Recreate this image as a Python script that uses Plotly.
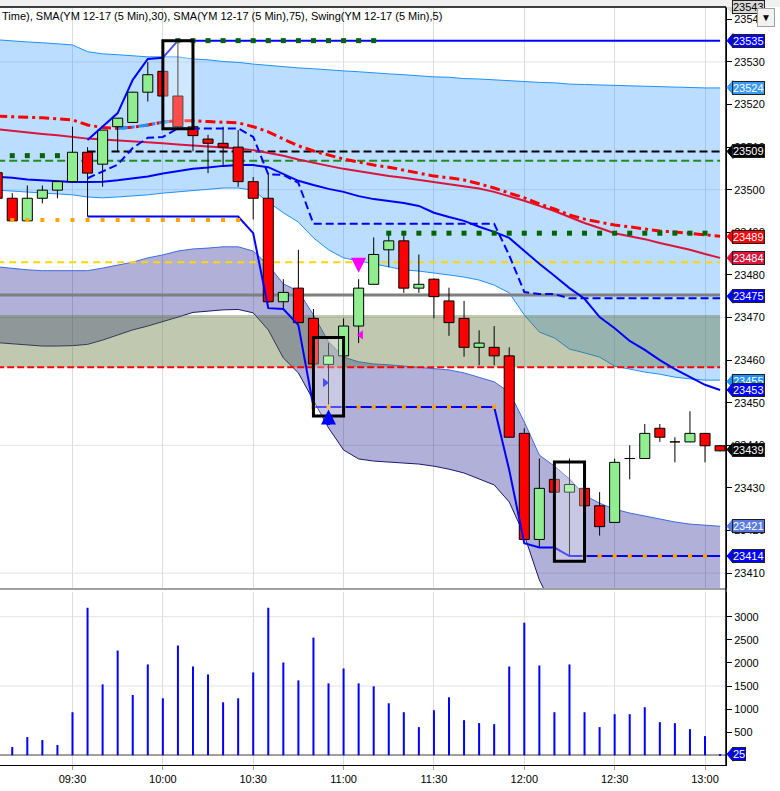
import pandas as pd
import plotly.graph_objects as go

# ---------------- data ----------------
times = pd.date_range("2017-11-28 09:05", periods=49, freq="5min")
x_range = ["2017-11-28 09:05:56", "2017-11-28 13:06:58"]

opens = [23504.0, 23498.0, 23492.7, 23498.0, 23499.9, 23501.9, 23508.8, 23506.0, 23514.8, 23515.8,
         23522.9, 23527.8, 23522.0, 23514.8, 23511.9, 23510.9, 23510.0, 23501.9, 23498.0, 23473.7,
         23476.9, 23469.8, 23459.0, 23461.0, 23468.0, 23477.8, 23485.9, 23488.0, 23476.9, 23479.0,
         23473.9, 23469.8, 23463.0, 23463.0, 23461.0, 23442.8, 23417.9, 23432.0, 23429.0, 23429.9,
         23425.8, 23421.9, 23436.9, 23436.9, 23444.0, 23440.8, 23440.8, 23442.8, 23439.9]
highs = [23505.0, 23499.2, 23501.0, 23501.0, 23502.0, 23514.8, 23510.0, 23514.0, 23516.8, 23523.0,
         23530.0, 23528.0, 23535.0, 23515.0, 23512.9, 23514.8, 23514.0, 23503.0, 23503.9, 23479.0,
         23485.9, 23472.0, 23464.0, 23469.8, 23479.0, 23488.8, 23489.8, 23489.8, 23484.8, 23479.2,
         23477.0, 23473.9, 23467.0, 23468.0, 23463.0, 23444.0, 23436.9, 23432.2, 23436.9, 23430.0,
         23429.0, 23436.9, 23440.0, 23445.0, 23445.0, 23441.9, 23448.0, 23442.9, 23440.0]
lows = [23497.0, 23492.6, 23492.6, 23496.8, 23498.0, 23501.9, 23493.7, 23500.7, 23509.0, 23515.8,
        23520.7, 23521.5, 23514.5, 23509.0, 23503.9, 23505.8, 23500.7, 23493.0, 23473.5, 23472.0,
        23468.6, 23459.0, 23449.6, 23460.8, 23464.0, 23477.8, 23481.8, 23475.8, 23475.8, 23469.8,
        23465.7, 23460.8, 23458.8, 23458.8, 23441.8, 23417.8, 23416.0, 23428.8, 23414.0, 23425.7,
        23418.8, 23421.8, 23432.0, 23436.8, 23440.8, 23436.0, 23440.7, 23436.0, 23438.6]
closes = [23498.0, 23492.7, 23498.0, 23499.9, 23501.9, 23508.8, 23503.9, 23514.0, 23516.8, 23522.9,
          23527.0, 23522.0, 23514.8, 23512.7, 23510.9, 23510.0, 23501.9, 23498.0, 23473.7, 23475.9,
          23468.8, 23459.1, 23461.0, 23468.0, 23476.9, 23484.8, 23488.0, 23476.9, 23477.8, 23474.9,
          23468.8, 23463.0, 23464.0, 23461.0, 23441.9, 23417.9, 23429.9, 23429.0, 23430.8, 23425.8,
          23420.9, 23436.0, 23436.9, 23442.8, 23441.9, 23440.8, 23442.8, 23439.9, 23438.7]
volume = [350, 180, 395, 330, 222, 933, 3194, 1536, 2268, 1306,
          1967, 1234, 2376, 1923, 1751, 1148, 1234, 1794, 3194, 2010,
          1622, 2548, 1557, 1880, 1557, 1493, 1127, 933, 610, 976,
          1256, 761, 696, 675, 1923, 2871, 1945, 933, 1967, 933,
          610, 890, 890, 1041, 718, 696, 567, 416, 25]

# light-blue envelope
env_upper = [23535.2, 23534.9, 23534.7, 23534.5, 23534.2, 23534.0, 23532.4, 23531.9, 23531.7, 23531.4,
             23531.2, 23531.2, 23531.2, 23530.7, 23530.5, 23530.1, 23529.9, 23529.5, 23529.2, 23528.8,
             23528.6, 23528.4, 23528.1, 23527.9, 23527.7, 23527.4, 23527.2, 23527.0, 23526.7, 23526.5,
             23526.4, 23526.1, 23526.0, 23525.8, 23525.5, 23525.4, 23525.2, 23525.1, 23524.8, 23524.7,
             23524.6, 23524.5, 23524.4, 23524.3, 23524.1, 23524.1, 23524.0, 23523.9, 23523.9]
env_lower = [23499.9, 23499.7, 23499.5, 23499.2, 23499.0, 23498.8, 23498.3, 23498.1, 23498.3, 23498.5,
             23498.8, 23499.2, 23499.5, 23499.9, 23500.2, 23500.4, 23500.4, 23499.9, 23497.1, 23494.6,
             23492.4, 23488.7, 23485.9, 23484.0, 23483.3, 23482.6, 23481.9, 23481.2, 23480.9, 23480.5,
             23480.0, 23479.5, 23478.8, 23477.6, 23475.8, 23470.6, 23466.6, 23465.2, 23462.6, 23461.7,
             23460.7, 23458.6, 23457.9, 23457.2, 23456.7, 23456.0, 23455.6, 23455.3, 23455.3]
env_mid = [23503.0, 23502.8, 23502.4, 23502.2, 23502.0, 23501.8, 23501.8, 23501.9, 23502.2, 23502.6,
           23503.1, 23503.8, 23504.4, 23504.9, 23505.2, 23505.6, 23505.8, 23505.8, 23505.3, 23503.7,
           23502.1, 23501.1, 23500.2, 23499.5, 23498.5, 23497.8, 23497.4, 23496.9, 23496.2, 23494.6,
           23493.6, 23492.7, 23491.3, 23490.1, 23488.7, 23485.6, 23482.6, 23479.8, 23476.9, 23474.4,
           23470.1, 23467.5, 23464.5, 23462.4, 23460.0, 23457.9, 23456.0, 23454.2, 23453.0]
# purple envelope
band_upper = [23481.9, 23481.5, 23481.2, 23481.0, 23481.0, 23481.0, 23481.0, 23481.6, 23482.3, 23483.0,
              23484.0, 23484.7, 23485.6, 23486.1, 23486.3, 23486.6, 23486.6, 23485.6, 23482.3, 23477.9,
              23476.2, 23470.6, 23464.3, 23460.7, 23459.6, 23459.1, 23458.9, 23458.6, 23458.4, 23458.1,
              23457.7, 23457.0, 23456.0, 23454.9, 23452.5, 23445.5, 23437.7, 23435.1, 23432.1, 23428.3,
              23426.4, 23425.0, 23424.1, 23423.4, 23422.7, 23422.0, 23421.5, 23421.3, 23421.0]
band_lower = [23464.1, 23463.8, 23463.5, 23463.3, 23463.3, 23463.4, 23463.7, 23464.7, 23465.9, 23467.1,
              23468.0, 23469.0, 23470.1, 23471.2, 23471.5, 23471.8, 23471.9, 23471.1, 23467.1, 23460.5,
              23457.0, 23450.6, 23444.1, 23438.9, 23436.8, 23436.3, 23436.1, 23435.8, 23435.6, 23435.1,
              23434.4, 23433.5, 23432.1, 23430.7, 23426.7, 23418.9, 23408.4, 23401.3, 23397.8, 23395.5,
              23393.8, 23392.4, 23391.5, 23390.8, 23390.0, 23389.3, 23388.9, 23388.4, 23388.2]
# SMA(30) dash-dot and SMA(75) solid
sma30 = [23517.3, 23517.1, 23517.0, 23516.9, 23516.6, 23516.4, 23515.2, 23514.6, 23514.4, 23514.7,
         23515.2, 23515.9, 23516.2, 23516.2, 23516.0, 23515.9, 23515.7, 23514.8, 23513.6, 23511.9,
         23510.3, 23509.1, 23508.2, 23507.2, 23506.5, 23505.8, 23505.3, 23504.6, 23503.9, 23503.2,
         23502.8, 23502.3, 23501.4, 23500.4, 23499.2, 23498.1, 23496.7, 23495.5, 23494.1, 23493.1,
         23492.4, 23491.7, 23491.3, 23490.8, 23490.3, 23490.1, 23489.7, 23489.4, 23489.1]
sma75 = [23514.2, 23513.8, 23513.5, 23513.1, 23512.8, 23512.4, 23512.0, 23511.8, 23511.6, 23511.3,
         23511.1, 23510.9, 23510.6, 23510.4, 23510.2, 23509.9, 23509.7, 23509.3, 23508.7, 23508.0,
         23507.1, 23506.3, 23505.6, 23504.9, 23504.3, 23503.7, 23503.2, 23502.8, 23502.3, 23501.8,
         23501.4, 23500.9, 23500.3, 23499.5, 23498.5, 23497.4, 23496.2, 23495.0, 23493.6, 23492.2,
         23491.0, 23489.8, 23489.1, 23488.4, 23487.5, 23486.7, 23485.9, 23484.9, 23484.0]
# channel (starts at 09:35)
ch_upper = [None] * 6 + [23511.7, 23514.8, 23518.0, 23525.8, 23530.7, 23531.0] + [23535.0] * 37
ch_lower = ([None] * 6 + [23493.7] * 11 + [23489.8, 23472.2, 23472.0, 23468.2] + [23449.0] * 13
            + [23434.2, 23417.0, 23416.0, 23416.0] + [23414.0] * 11)
ch_mid = ([None] * 6 + [23502.7, 23504.3, 23505.9, 23509.8, 23512.2, 23512.4] + [23514.4] * 5
          + [23512.4, 23503.6, 23503.5, 23501.6] + [23492.0] * 13
          + [23484.6, 23476.0, 23475.5, 23475.5] + [23474.5] * 11)

# swing dots: (level, first bar, last bar)
swing_highs = [(23508.0, 1, 4), (23535.0, 12, 25), (23489.8, 26, 47)]
swing_lows = [(23492.9, 1, 16), (23449.0, 21, 33), (23414.0, 39, 47)]

# horizontal levels
level_green = 23506.8
level_black = 23509.0
level_gold = 23483.0
level_gray = 23475.3
level_red = 23458.3
zone = (23458.3, 23470.6)

# highlighted bar groups: (first bar, last bar, low, high)
boxes = [(11, 13, 23514.3, 23535.0), (21, 23, 23446.9, 23465.3), (37, 39, 23412.8, 23436.1)]

# right-side price tags
tags = [(23455, "#1E90FF"), (23535, "#0000FF"), (23524, "#3A9BF5"), (23509, "#000000"),
        (23489, "#FF0000"), (23484, "#DC143C"), (23475, "#0000FF"), (23453, "#0000FF"),
        (23439, "#000000"), (23421, "#5B7BE0"), (23414, "#0000FF")]

price_ticks = list(range(23410, 23541, 10))
price_grid = [23410, 23440, 23470, 23500, 23530]
vol_ticks = [500, 1000, 1500, 2000, 2500, 3000]
vol_grid = [1500, 3000]

title_text = "Time), SMA(YM 12-17 (5 Min),30), SMA(YM 12-17 (5 Min),75), Swing(YM 12-17 (5 Min),5)"

# ---------------- figure ----------------
fig = go.Figure()
T = list(times)
P = dict(xaxis="x", yaxis="y")

def line(x, y, color, width, dash="solid", **kw):
    fig.add_trace(go.Scatter(x=x, y=y, mode="lines", line=dict(color=color, width=width, dash=dash),
                             hoverinfo="skip", **P, **kw))

# envelopes
line(T, env_lower, "#1E90FF", 1)
line(T, env_upper, "#1E90FF", 1, fill="tonexty", fillcolor="rgba(30,144,255,0.3)")
line(T, band_lower, "#191970", 1)
line(T, band_upper, "#4169E1", 1, fill="tonexty", fillcolor="rgba(0,0,128,0.31)")

# zone
zx = [T[0], T[-1], T[-1], T[0], T[0]]
zy = [zone[0], zone[0], zone[1], zone[1], zone[0]]
fig.add_trace(go.Scatter(x=zx, y=zy, mode="lines", fill="toself", fillcolor="rgba(89,110,47,0.38)",
                         line=dict(width=0), hoverinfo="skip", **P))

# levels
line([T[0], T[-1]], [level_green] * 2, "#228B22", 2, "8px,4px")
line([T[6], T[-1]], [level_black] * 2, "#000000", 2, "8px,4px")
line([T[0], T[-1]], [level_gold] * 2, "#FFD700", 2, "7px,5px")
line([T[0], T[-1]], [level_gray] * 2, "#7F7F7F", 3)
line([T[0], T[-1]], [level_red] * 2, "#FF0000", 2, "7px,3px")

# moving averages
line(T, sma75, "#DC143C", 2)
line(T, sma30, "#FF0000", 3, "10px,4px,3px,4px")
line(T[8:13], sma30[8:13], "#1E90FF", 3, "10px,4px,3px,4px")
line(T, env_mid, "#0000FF", 2)

# candles
half = pd.Timedelta(seconds=100)
wx, wy = [], []
for i in range(len(T)):
    wx += [T[i], T[i], None]
    wy += [lows[i], highs[i], None]
line(wx, wy, "#000000", 1)

def bodies(idx, fillcolor):
    bx, by = [], []
    for i in idx:
        lo, hi = min(opens[i], closes[i]), max(opens[i], closes[i])
        bx += [T[i] - half, T[i] + half, T[i] + half, T[i] - half, T[i] - half, None]
        by += [lo, lo, hi, hi, lo, None]
    fig.add_trace(go.Scatter(x=bx, y=by, mode="lines", fill="toself", fillcolor=fillcolor,
                             line=dict(color="black", width=1), hoverinfo="skip", **P))

bodies([i for i in range(len(T)) if closes[i] > opens[i]], "#90EE90")
bodies([i for i in range(len(T)) if closes[i] < opens[i]], "#FF0000")
bodies([i for i in range(len(T)) if closes[i] == opens[i]], "rgba(0,0,0,0)")

# channel lines
line(T, ch_upper, "#0000FF", 2)
line(T, ch_lower, "#0000FF", 2)
line(T, ch_mid, "#0000FF", 2, "8px,4px")

# swing dots
for lvl, a, b in swing_highs:
    fig.add_trace(go.Scatter(x=T[a:b + 1], y=[lvl] * (b - a + 1), mode="markers",
                             marker=dict(symbol="square", size=5, color="#006400"), hoverinfo="skip", **P))
for lvl, a, b in swing_lows:
    fig.add_trace(go.Scatter(x=T[a:b + 1], y=[lvl] * (b - a + 1), mode="markers",
                             marker=dict(symbol="square", size=4, color="#FFA500"), hoverinfo="skip", **P))

# signal triangles
fig.add_trace(go.Scatter(x=[pd.Timestamp("2017-11-28 10:53:50")], y=[23454.7], mode="markers",
                         marker=dict(symbol="triangle-right", size=8, color="#0000FF"), hoverinfo="skip", **P))
fig.add_trace(go.Scatter(x=[pd.Timestamp("2017-11-28 11:05:45")], y=[23465.9], mode="markers",
                         marker=dict(symbol="triangle-left", size=8, color="#FF00FF"), hoverinfo="skip", **P))

# volume
fig.add_trace(go.Bar(x=T, y=volume, width=40000, marker=dict(color="#0000FF", line=dict(width=0)),
                     hoverinfo="skip", xaxis="x2", yaxis="y2"))

shapes = []
annotations = []
for g in price_grid:
    shapes.append(dict(type="line", xref="paper", x0=0, x1=1, yref="y", y0=g, y1=g,
                       line=dict(color="#E3E3E3", width=1), layer="below"))
for g in vol_grid:
    shapes.append(dict(type="line", xref="paper", x0=0, x1=1, yref="y2", y0=g, y1=g,
                       line=dict(color="#E3E3E3", width=1), layer="below"))
for a, b, lo, hi in boxes:
    shapes.append(dict(type="rect", xref="x", yref="y", x0=T[a], x1=T[b], y0=lo, y1=hi,
                       line=dict(color="black", width=3), fillcolor="rgba(255,255,255,0.3)", layer="above"))

# frame
shapes.append(dict(type="rect", xref="paper", yref="paper", x0=-0.01, x1=1.2, y0=1, y1=1.02,
                   fillcolor="#F0F0F0", line=dict(width=0), layer="above"))
shapes.append(dict(type="line", xref="paper", yref="paper", x0=0, x1=1, y0=1, y1=1,
                   line=dict(color="black", width=1.5), layer="above"))
shapes.append(dict(type="line", xref="paper", yref="paper", x0=1, x1=1, y0=0, y1=1,
                   line=dict(color="black", width=1.5), layer="above"))

# arrows
annotations.append(dict(x=T[22], y=23448.4, xref="x", yref="y", text="", showarrow=True, ax=0, ay=17,
                        arrowhead=2, arrowsize=1, arrowwidth=3, arrowcolor="#0000FF"))
annotations.append(dict(x=T[24], y=23480.5, xref="x", yref="y", text="", showarrow=True, ax=0, ay=-16,
                        arrowhead=2, arrowsize=1, arrowwidth=3, arrowcolor="#FF00FF"))

def tag(val, color, yref="y", text=None, fcolor="white"):
    shapes.append(dict(type="path", xref="paper", yref=yref, xsizemode="pixel", ysizemode="pixel",
                       xanchor=1, yanchor=val, path="M 1 0 L 7 7 L 7 -7 Z", fillcolor=color,
                       line=dict(color=color, width=1), layer="above"))
    annotations.append(dict(x=1, y=val, xref="paper", yref=yref, xanchor="left", yanchor="middle",
                            xshift=6, text=text if text is not None else str(val), showarrow=False,
                            font=dict(color=fcolor, size=11, family="Arial"), bgcolor=color,
                            bordercolor="#202020", borderwidth=1, borderpad=0))

tag(23542.8, "#D8D8D8", text="23543", fcolor="black")
for v, c in tags:
    tag(v, c)
tag(25, "#0000FF", yref="y2")

# dropdown button
annotations.append(dict(x=1, y=1, xref="paper", yref="paper", xanchor="left", yanchor="top", xshift=31,
                        yshift=-1, text="▼", showarrow=False, font=dict(size=10, color="black"),
                        bgcolor="#F2F2F2", bordercolor="#A0A0A0", borderwidth=1, borderpad=3))
# title
annotations.append(dict(x=0, y=1, xref="paper", yref="paper", xanchor="left", yanchor="top", yshift=-1,
                        text=title_text, showarrow=False, font=dict(size=11, color="black", family="Arial")))

tick_style = dict(ticks="outside", ticklen=5, tickcolor="black", tickfont=dict(size=11, color="black"))
fig.update_layout(
    width=780, height=791, margin=dict(l=0, r=54, t=7, b=26),
    plot_bgcolor="white", paper_bgcolor="white", showlegend=False,
    font=dict(family="Arial", size=11, color="black"),
    xaxis=dict(domain=[0, 1], anchor="y", type="date", range=x_range, showticklabels=False,
               showgrid=True, gridcolor="#DDDDDD", dtick=1800000, tick0="2017-11-28 09:30",
               showline=True, linecolor="#A0A0A0", linewidth=2, ticks="", zeroline=False),
    yaxis=dict(domain=[0.2335, 1], anchor="x", range=[23406.5, 23542.9], side="right",
               tickvals=price_ticks, tickformat="d", showgrid=False, zeroline=False, showline=True,
               linecolor="black", **tick_style),
    xaxis2=dict(domain=[0, 1], anchor="y2", type="date", range=x_range, matches="x",
                showgrid=True, gridcolor="#DDDDDD", dtick=1800000, tick0="2017-11-28 09:30",
                tickformat="%H:%M", showline=True, linecolor="black", ticks="outside", ticklen=4,
                tickcolor="#A0A0A0", tickfont=dict(size=11, color="black"), zeroline=False),
    yaxis2=dict(domain=[0, 0.2282], anchor="x2", range=[-210, 3535], side="right", tickvals=vol_ticks,
                tickformat="d", showgrid=False, zeroline=True, zerolinecolor="#A0A0A0", zerolinewidth=2,
                showline=True, linecolor="black", **tick_style),
    shapes=shapes, annotations=annotations,
)

fig.write_html("out.html", config={"displayModeBar": False},
               post_script="document.body.style.margin='0px';document.body.style.overflow='hidden';")
